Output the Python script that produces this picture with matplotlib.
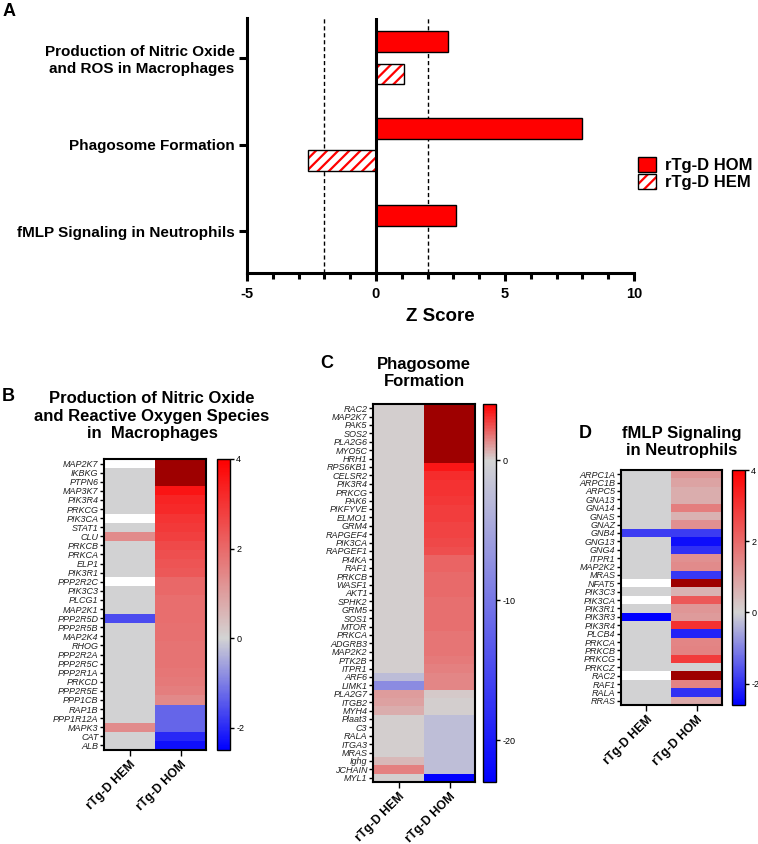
import matplotlib
matplotlib.use('Agg')
import matplotlib.pyplot as plt
import numpy as np
from matplotlib.colors import LinearSegmentedColormap
from matplotlib.patches import Patch
from matplotlib.ticker import MultipleLocator

plt.rcParams['font.family'] = 'Liberation Sans'
plt.rcParams['hatch.linewidth'] = 1.6
plt.rcParams['axes.unicode_minus'] = False

nan = np.nan

# panel A: z scores
pathways = ['Production of Nitric Oxide\nand ROS in Macrophages',
            'Phagosome Formation',
            'fMLP Signaling in Neutrophils']
z_hom = [2.8, 8.0, 3.1]
z_hem = [1.1, -2.65, nan]

# panel B
b_genes = ['MAP2K7', 'IKBKG', 'PTPN6', 'MAP3K7', 'PIK3R4', 'PRKCG', 'PIK3CA', 'STAT1',
           'CLU', 'PRKCB', 'PRKCA', 'ELP1', 'PIK3R1', 'PPP2R2C', 'PIK3C3', 'PLCG1',
           'MAP2K1', 'PPP2R5D', 'PPP2R5B', 'MAP2K4', 'RHOG', 'PPP2R2A', 'PPP2R5C',
           'PPP2R1A', 'PRKCD', 'PPP2R5E', 'PPP1CB', 'RAP1B', 'PPP1R12A', 'MAPK3', 'CAT', 'ALB']
b_hem = [nan, 0, 0, 0, 0, 0, nan, 0, 1.35, 0, 0, 0, 0, nan, 0, 0,
         0, -1.6, 0, 0, 0, 0, 0, 0, 0, 0, 0, 0, 0, 1.35, 0, 0]
b_hom = [4.6, 4.6, 4.6, 3.6, 3.3, 3.2, 3.0, 2.9, 2.8, 2.6, 2.5, 2.4, 2.3, 2.0, 2.0, 1.9,
         1.9, 1.9, 1.85, 1.85, 1.8, 1.8, 1.8, 1.75, 1.7, 1.6, 1.4, -1.3, -1.3, -1.3, -2.0, -2.3]

# panel C
c_genes = ['RAC2', 'MAP2K7', 'PAK5', 'SOS2', 'PLA2G6', 'MYO5C', 'HRH1', 'RPS6KB1', 'CELSR2',
           'PIK3R4', 'PRKCG', 'PAK6', 'PIKFYVE', 'ELMO1', 'GRM4', 'RAPGEF4', 'PIK3CA',
           'RAPGEF1', 'PI4KA', 'RAF1', 'PRKCB', 'WASF1', 'AKT1', 'SPHK2', 'GRM5', 'SOS1',
           'MTOR', 'PRKCA', 'ADGRB3', 'MAP2K2', 'PTK2B', 'ITPR1', 'ARF6', 'LIMK1', 'PLA2G7',
           'ITGB2', 'MYH4', 'Plaat3', 'C3', 'RALA', 'ITGA3', 'MRAS', 'Ighg', 'JCHAIN', 'MYL1']
c_hem = [0] * 32 + [-2.5, -7.8, 1.0, 0.9, 0.7, 0, 0, 0, 0, 0, 0.5, 1.5, 0]
c_hom = [5.0, 5.0, 5.0, 5.0, 5.0, 5.0, 5.0, 3.5, 3.1, 3.0, 3.0, 2.9, 2.8, 2.8, 2.7, 2.7,
         2.6, 2.5, 2.0, 2.0, 1.9, 1.9, 1.9, 1.8, 1.8, 1.8, 1.8, 1.7, 1.7, 1.7, 1.6, 1.5,
         1.4, 1.4, 0.2, 0.05, 0.05, -2.3, -2.3, -2.3, -2.3, -2.3, -2.3, -2.3, -23.0]

# panel D
d_genes = ['ARPC1A', 'ARPC1B', 'ARPC5', 'GNA13', 'GNA14', 'GNAS', 'GNAZ', 'GNB4', 'GNG13',
           'GNG4', 'ITPR1', 'MAP2K2', 'MRAS', 'NFAT5', 'PIK3C3', 'PIK3CA', 'PIK3R1', 'PIK3R3',
           'PIK3R4', 'PLCB4', 'PRKCA', 'PRKCB', 'PRKCG', 'PRKCZ', 'RAC2', 'RAF1', 'RALA', 'RRAS']
d_hem = [0, 0, 0, 0, 0, 0, 0, -1.85, 0, 0, 0, 0, 0, nan, 0, nan, 0, -2.6,
         0, 0, 0, 0, 0, 0, nan, 0, 0, 0]
d_hom = [1.15, 0.9, 0.7, 0.7, 1.6, 0.6, 1.25, -1.85, -2.4, -2.0, 1.25, 1.35, -1.9, 5.0,
         0.6, 2.3, 1.15, 1.05, 3.05, -2.15, 1.45, 1.5, 2.85, 0, 5.0, 1.5, -2.0, 0.8]

groups = ['rTg-D HEM', 'rTg-D HOM']

W, H = 758, 844
fig = plt.figure(figsize=(W / 100, H / 100), dpi=100)


def fx(px):
    return px / W


def fy(py):
    return 1 - py / H


# ---- panel A ----
axA = fig.add_axes([fx(247), fy(273), fx(634) - fx(247), fy(18) - fy(273)])
y = np.arange(len(pathways))
bh = 0.24
axA.barh(y - 0.185, z_hom, bh, color='#FF0000', edgecolor='black', linewidth=1, zorder=3)
for yi, v in zip(y, z_hem):
    if np.isnan(v):
        continue
    axA.barh(yi + 0.185, v, bh, color='white', edgecolor='#FF0000', hatch='///',
             linewidth=0, zorder=3)
    axA.barh(yi + 0.185, v, bh, fill=False, edgecolor='black', linewidth=1, zorder=4)
axA.axvline(0, color='black', lw=2.2, zorder=5)
for xv in (-2, 2):
    axA.axvline(xv, color='black', lw=1, ls=(0, (3, 2)), zorder=2)
axA.set_xlim(-5, 10)
axA.set_ylim(2.48, -0.46)
axA.set_yticks(y)
axA.set_yticklabels(pathways, fontsize=11, fontweight='bold', linespacing=1.25)
axA.set_xticks([-5, 0, 5, 10])
axA.set_xticklabels(['-5', '0', '5', '10'], fontsize=10.5, fontweight='bold')
axA.xaxis.set_minor_locator(MultipleLocator(1))
axA.tick_params(axis='y', length=6, width=2.2, pad=3)
axA.tick_params(axis='x', which='major', length=6, width=2.2, pad=4)
axA.tick_params(axis='x', which='minor', length=4, width=2.2)
for s in ('top', 'right'):
    axA.spines[s].set_visible(False)
for s in ('left', 'bottom'):
    axA.spines[s].set_linewidth(2.2)
axA.set_xlabel('Z Score', fontsize=13.5, fontweight='bold', labelpad=5)

hom_h = Patch(facecolor='#FF0000', edgecolor='black', linewidth=1)
hem_h = (Patch(facecolor='white', edgecolor='#FF0000', hatch='///', linewidth=0),
         Patch(fill=False, edgecolor='black', linewidth=1))
fig.legend([hom_h, hem_h], ['rTg-D HOM', 'rTg-D HEM'], loc='upper left',
           bbox_to_anchor=(fx(638), fy(157)), frameon=False,
           prop={'size': 12, 'weight': 'bold'}, handlelength=1.1, handleheight=1.0,
           handletextpad=0.5, labelspacing=0.05, borderpad=0, borderaxespad=0)
fig.text(fx(9), fy(12), 'A', fontsize=13, fontweight='bold', ha='center', va='center')


# ---- heatmaps ----
def heatmap(left, right, top, bottom, cb_left, genes, hem, hom, vmin, vmax, cticks):
    ax = fig.add_axes([fx(left), fy(bottom), fx(right) - fx(left), fy(top) - fy(bottom)])
    data = np.ma.masked_invalid(np.column_stack([hem, hom]))
    frac = -vmin / (vmax - vmin)
    cmap = LinearSegmentedColormap.from_list(
        'bgr', [(0, '#0000FF'), (frac, '#D3D3D3'), (1, '#FF0000')])
    cmap.set_over('#9E0000')
    cmap.set_bad('white')
    im = ax.imshow(data, cmap=cmap, vmin=vmin, vmax=vmax, aspect='auto',
                   interpolation='nearest')
    ax.set_yticks(range(len(genes)))
    ax.set_yticklabels(genes, fontsize=6.5, style='italic', color='#222222')
    ax.set_xticks([0, 1])
    ax.set_xticklabels(groups, rotation=45, ha='right', rotation_mode='anchor',
                       fontsize=8.8, fontweight='bold')
    ax.tick_params(axis='y', length=3, width=1, pad=1)
    ax.tick_params(axis='x', length=4, width=1, pad=2)
    for s in ax.spines.values():
        s.set_linewidth(1.5)
    cax = fig.add_axes([fx(cb_left), fy(bottom), fx(13), fy(top) - fy(bottom)])
    cb = fig.colorbar(im, cax=cax, ticks=cticks)
    cb.ax.tick_params(labelsize=6.5, length=3, width=1, pad=1.5)
    cb.outline.set_linewidth(1)
    return ax


heatmap(104, 206, 459, 750, 217, b_genes, b_hem, b_hom, -2.5, 4, [-2, 0, 2, 4])
heatmap(373, 475, 404, 782, 483, c_genes, c_hem, c_hom, -23, 4, [-20, -10, 0])
heatmap(621, 722, 470, 705, 732, d_genes, d_hem, d_hom, -2.6, 4, [-2, 0, 2, 4])

fig.text(fx(152), fy(416), 'Production of Nitric Oxide\nand Reactive Oxygen Species\nin  Macrophages',
         fontsize=12, fontweight='bold', ha='center', va='center', linespacing=1.2)
fig.text(fx(424), fy(373), 'Phagosome\nFormation', fontsize=12, fontweight='bold',
         ha='center', va='center', linespacing=1.2)
fig.text(fx(682), fy(442), 'fMLP Signaling\nin Neutrophils', fontsize=12, fontweight='bold',
         ha='center', va='center', linespacing=1.2)
fig.text(fx(8), fy(396), 'B', fontsize=13, fontweight='bold', ha='center', va='center')
fig.text(fx(327), fy(364), 'C', fontsize=13, fontweight='bold', ha='center', va='center')
fig.text(fx(585), fy(433), 'D', fontsize=13, fontweight='bold', ha='center', va='center')

fig.savefig('out.png', dpi=100)
